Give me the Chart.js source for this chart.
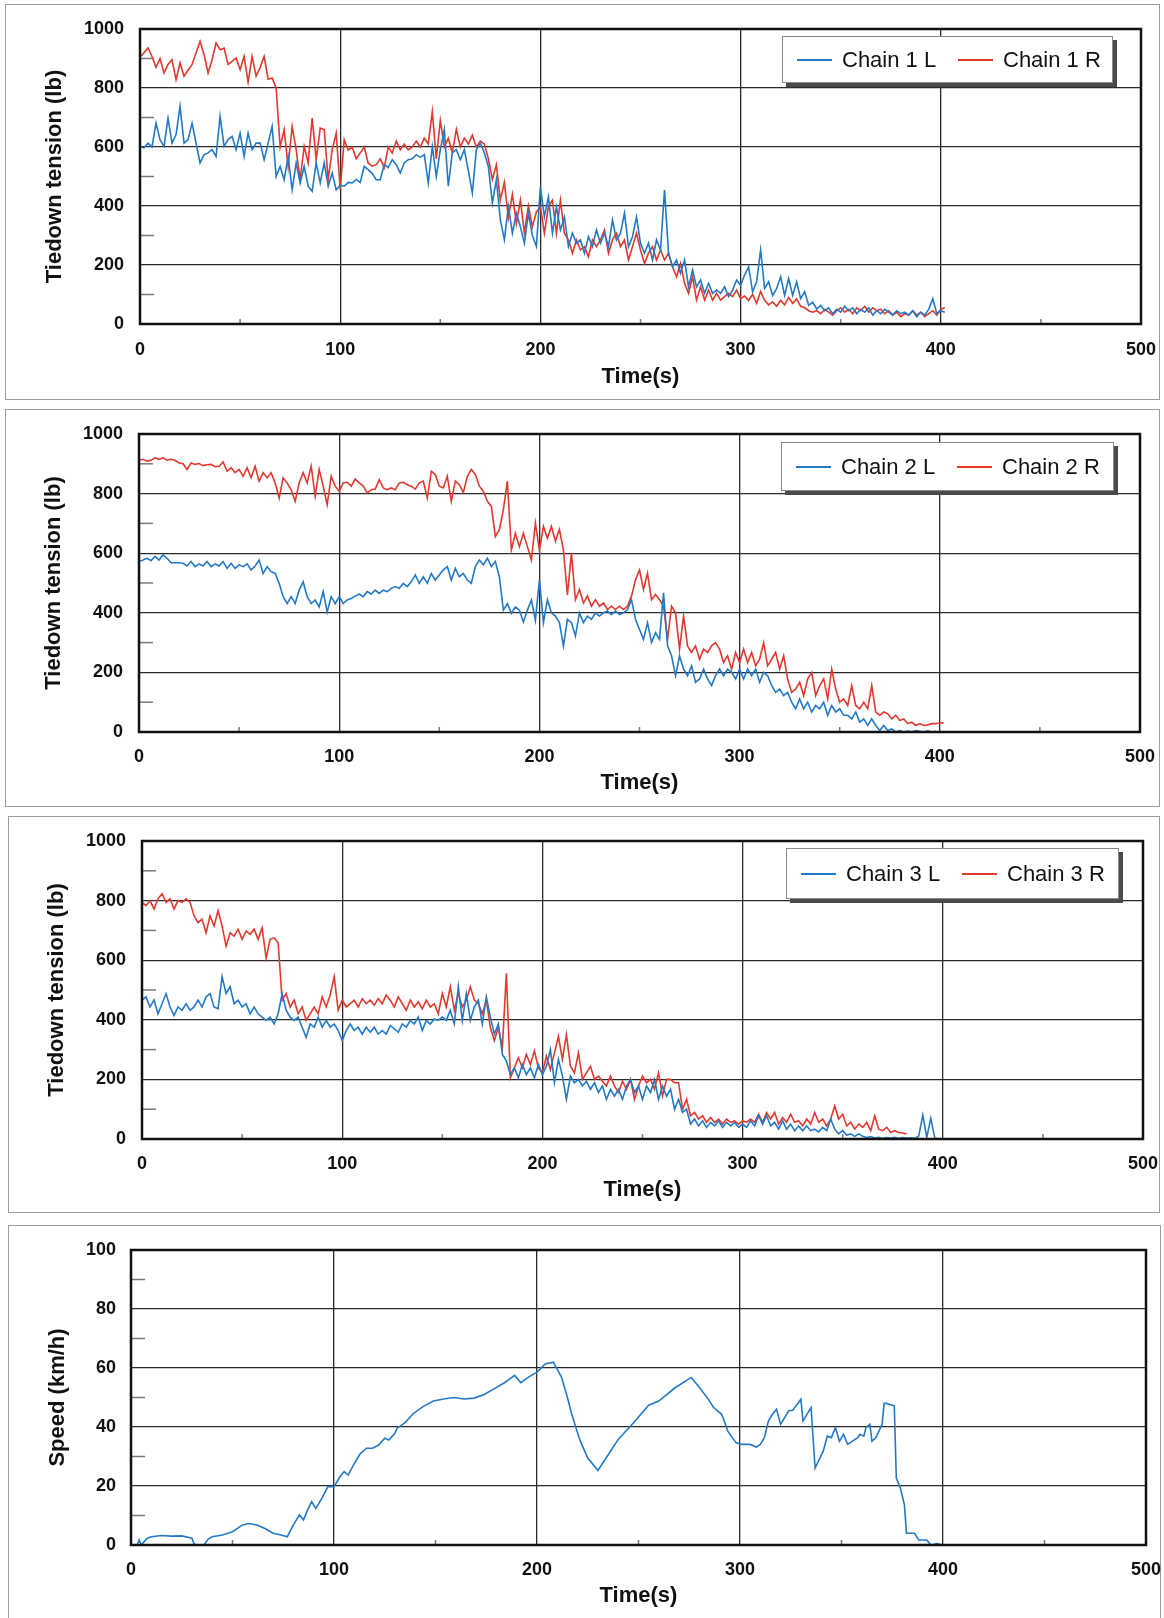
<!DOCTYPE html>
<html>
<head>
<meta charset="utf-8">
<title>Tiedown tension and speed</title>
<script src="https://cdn.jsdelivr.net/npm/chart.js@4.4.0/dist/chart.umd.min.js"></script>
<style>
  html, body { margin: 0; padding: 0; background: #fff; }
  body { width: 1164px; height: 1618px; position: relative; overflow: hidden; font-family: 'Liberation Sans', Arial, sans-serif; }
  .box { position: absolute; border: 1.5px solid #9c9c9c; box-sizing: border-box; }
  canvas.plot { position: absolute; left: 0; }
  .legend { position: absolute; background: #fff; border: 1px solid #8a8a8a; box-shadow: 4px 4px 0 #4a4a4a; box-sizing: border-box; }
  .legend .item { position: absolute; top: 0; height: 100%; display: flex; align-items: center; font-size: 22px; color: #111; white-space: nowrap; }
  .legend .swatch { width: 35px; height: 2px; margin-right: 10px; }
</style>
</head>
<body>
<script>
// sample times (s) shared by the tension records
const TIME = [
  0,2,4,6,8,10,12,14,16,18,
  20,22,24,26,28,30,32,34,36,38,
  40,42,44,46,48,50,52,54,56,58,
  60,62,64,66,68,70,72,74,76,78,
  80,82,84,86,88,90,92,94,96,98,
  100,102,104,106,108,110,112,114,116,118,
  120,122,124,126,128,130,132,134,136,138,
  140,142,144,146,148,150,152,154,156,158,
  160,162,164,166,168,170,172,174,176,178,
  180,182,184,186,188,190,192,194,196,198,
  200,202,204,206,208,210,212,214,216,218,
  220,222,224,226,228,230,232,234,236,238,
  240,242,244,246,248,250,252,254,256,258,
  260,262,264,266,268,270,272,274,276,278,
  280,282,284,286,288,290,292,294,296,298,
  300,302,304,306,308,310,312,314,316,318,
  320,322,324,326,328,330,332,334,336,338,
  340,342,344,346,348,350,352,354,356,358,
  360,362,364,366,368,370,372,374,376,378,
  380,382,384,386,388,390,392,394,396,398,
  400,402
];

// Chain 1 (lb)
const CHAIN1_L = [
  602,597,613,600,681,625,602,698,613,642,
  738,613,625,681,613,546,574,580,591,568,
  704,602,625,636,591,647,568,647,591,613,
  613,557,613,670,500,534,489,568,455,546,
  478,534,467,450,546,478,546,467,512,455,
  470,467,480,478,490,480,534,523,510,489,
  489,540,530,557,540,512,546,557,560,574,
  565,574,478,602,500,591,659,467,580,591,
  557,591,520,444,591,613,580,534,410,489,
  353,286,399,308,376,330,274,376,300,263,
  465,363,431,308,397,319,363,262,308,274,
  285,240,296,262,319,274,308,262,353,285,
  308,376,262,296,363,274,240,274,217,285,
  251,454,240,194,217,172,217,126,183,126,
  149,104,138,104,115,104,126,93,115,149,
  131,166,194,109,143,251,120,143,97,120,
  160,97,154,97,143,86,109,63,74,51,
  63,45,55,35,50,40,60,45,55,35,
  50,40,55,30,45,35,50,40,30,45,
  35,40,30,45,25,40,30,50,86,35,
  45,40
];
const CHAIN1_R = [
  905,920,936,907,870,900,851,880,896,828,
  885,840,860,880,919,958,913,851,896,953,
  930,935,880,890,902,862,907,820,907,840,
  870,907,830,834,800,600,659,534,670,591,
  489,602,546,698,557,664,659,489,591,647,
  455,625,590,600,560,580,600,545,535,540,
  560,530,600,580,620,590,610,590,600,620,
  600,630,610,720,560,690,600,630,580,660,
  600,630,610,640,600,620,610,560,490,540,
  420,480,360,440,340,420,310,400,330,380,
  397,308,397,420,308,420,308,285,240,285,
  251,262,228,285,262,285,319,240,285,308,
  262,285,217,262,308,251,205,240,262,217,
  251,217,240,194,160,205,138,104,160,81,
  126,81,115,81,104,81,93,104,93,115,
  86,95,80,100,70,110,80,65,75,60,
  80,65,90,70,85,60,55,45,40,45,
  35,50,40,30,45,55,40,50,35,55,
  45,60,40,55,45,50,35,45,30,40,
  25,35,30,45,30,40,25,35,45,30,
  50,55
];

// Chain 2 (lb)
const CHAIN2_L = [
  572,577,583,575,589,577,594,583,568,568,
  568,566,557,572,555,564,557,572,555,564,
  557,572,549,566,549,561,555,564,544,557,
  577,532,555,538,532,499,454,431,454,431,
  476,504,454,431,443,420,471,403,454,431,
  454,431,443,448,456,463,454,471,463,476,
  465,476,471,482,488,482,499,488,504,527,
  499,521,499,532,510,527,544,555,510,549,
  521,532,510,499,555,577,561,583,555,572,
  521,409,431,398,420,409,369,409,443,375,
  511,367,444,400,389,367,289,378,367,322,
  400,367,389,378,400,389,400,406,394,406,
  394,400,411,444,378,344,311,367,300,333,
  311,467,289,256,189,256,211,189,222,167,
  178,211,178,156,189,211,189,211,200,178,
  211,178,211,189,211,167,200,189,156,133,
  144,122,133,100,78,111,78,100,67,89,
  78,100,56,89,67,78,56,56,44,67,
  33,44,22,44,22,5,22,5,10,0,
  5,0,3,0,5,2,0,4,0,2
];
const CHAIN2_R = [
  912,915,909,912,920,915,920,912,915,912,
  903,900,881,903,898,901,894,897,898,890,
  892,906,875,887,870,881,858,887,853,892,
  842,870,853,870,836,785,853,836,813,774,
  836,870,836,892,791,881,825,763,858,825,
  808,836,838,825,849,836,825,802,813,815,
  847,819,813,819,813,836,838,830,825,815,
  836,842,785,875,864,825,819,858,774,842,
  830,804,858,881,864,825,808,774,757,656,
  679,746,842,611,667,622,667,622,577,701,
  610,690,650,690,640,680,610,460,600,444,
  478,433,456,422,444,422,433,411,422,411,
  422,411,422,456,511,544,478,533,444,461,
  444,422,311,422,400,278,389,289,267,289,
  244,278,267,289,300,278,233,256,211,267,
  233,278,233,267,222,244,300,222,244,267,
  211,256,178,133,144,167,122,178,200,122,
  156,178,111,211,144,100,111,89,156,89,
  78,100,78,156,67,56,67,61,44,56,
  39,44,28,33,22,28,22,24,28,28,
  31,30
];

// Chain 3 (lb)
const CHAIN3_L = [
  466,477,443,466,420,454,488,443,415,443,
  432,454,432,443,466,443,477,488,443,437,
  545,488,511,454,466,443,454,420,443,420,
  409,398,409,386,420,488,432,409,398,409,
  375,341,386,375,409,375,398,375,386,364,
  330,364,386,364,375,352,375,358,375,352,
  364,352,381,370,358,386,375,398,386,409,
  364,398,386,403,398,409,398,432,386,511,
  398,488,398,443,466,386,477,409,352,386,
  284,262,216,239,205,250,216,239,205,250,
  216,244,300,189,267,211,133,211,189,200,
  178,194,167,189,156,178,133,167,144,167,
  133,178,200,156,178,133,178,156,200,133,
  178,144,167,100,133,89,100,50,67,44,
  61,39,56,44,61,39,56,44,56,39,
  50,39,61,44,78,50,78,44,56,33,
  61,33,50,28,44,28,44,28,33,24,
  39,28,67,33,17,28,13,17,9,17,
  9,5,8,3,6,2,5,3,6,2,
  5,3,4,2,10,80,5,70,3,0
];
const CHAIN3_R = [
  794,783,800,772,806,823,794,806,772,800,
  794,806,794,749,726,738,692,749,715,766,
  715,647,692,681,704,670,698,687,704,670,
  709,607,670,675,658,466,488,443,466,420,
  443,398,420,443,420,477,443,483,545,432,
  466,443,454,466,443,471,454,466,449,471,
  454,483,466,443,477,454,432,466,443,460,
  437,466,443,454,420,488,443,511,432,488,
  443,466,511,466,454,420,466,375,330,375,
  307,556,205,239,273,239,284,250,296,239,
  222,278,233,289,344,267,350,244,222,289,
  200,222,244,200,211,194,178,211,178,156,
  194,167,200,133,178,211,189,200,167,222,
  144,200,200,189,189,100,133,78,89,67,
  78,56,72,56,67,50,67,56,61,50,
  61,56,67,56,83,56,89,67,89,50,
  72,56,83,56,61,44,67,50,89,56,
  67,44,67,111,67,83,44,56,33,50,
  39,56,28,78,33,28,39,22,28,22,
  20,17
];

// vehicle speed (km/h)
const SPEED_TIME = [
  0,3,4,5,8,10,15,20,25,30,31,32,36,38,40,45,50,55,58,62,
  66,70,74,77,80,83,85,87,89,91,94,97,100,103,105,107,110,113,116,119,
  122,125,127,130,131,135,139,144,149,154,159,164,169,174,179,184,189,192,196,200,
  204,208,212,215,217,221,225,230,235,240,248,255,260,268,276,280,284,287,291,294,
  298,301,305,308,310,312,314,316,318,320,322,324,326,330,331,335,337,341,343,345,
  347,349,351,353,358,359,361,362,364,365,367,370,371,372,376,377,379,381,382,386,
  388,392,394,397,400
];
const SPEED = [
  0,0,1.7,0,2.3,2.8,3.2,3,3.1,2.3,0.5,0,0,2,2.8,3.4,4.5,6.8,7.3,6.8,
  5.6,4,3.4,2.8,6.8,10.2,8.5,11.9,14.7,12.4,15.8,19.8,19.8,23.2,24.9,23.7,27.7,31,32.8,32.8,
  33.9,36.2,35.6,37.9,39.5,41.5,44.5,47,48.8,49.5,50,49.5,49.8,51,53,55,57.5,55,57,58.6,
  61.4,62,57,50,44.6,35.8,29.5,25.3,30.5,35.8,41.8,47.4,48.8,53.3,56.8,53.4,49.8,46.6,44.3,38.6,
  34.7,34.1,34.1,33.2,34.1,36.4,42,44.3,46,40.9,43.2,45.5,45.7,49.4,42,46.6,26.1,31.8,36.9,36.4,
  39.8,35.2,37.5,34.1,36.4,37.5,36.9,39.8,40.9,35.2,36.4,40.9,48,48,47.2,22.7,19.3,13.6,4,4,
  1.7,1.7,0,0.5,0
];

const BLUE = '#2479c6';
const RED = '#e2392f';
const FONT = "'Liberation Sans', Arial, sans-serif";

function pts(xs, ys) { return ys.map((v, i) => ({ x: xs[i], y: v })); }

// short minor ticks between the major ones + heavy frame round the plot
const framePlugin = {
  id: 'frame',
  beforeDatasetsDraw(chart) {
    const { ctx, chartArea: a, scales } = chart;
    ctx.save();
    ctx.strokeStyle = '#7a7a7a';
    ctx.lineWidth = 1.5;
    const yt = scales.y.ticks;
    for (let i = 0; i < yt.length - 1; i++) {
      const py = scales.y.getPixelForValue((yt[i].value + yt[i + 1].value) / 2);
      ctx.beginPath(); ctx.moveTo(a.left, py); ctx.lineTo(a.left + 14, py); ctx.stroke();
    }
    const xt = scales.x.ticks;
    for (let i = 0; i < xt.length - 1; i++) {
      const px = scales.x.getPixelForValue((xt[i].value + xt[i + 1].value) / 2);
      ctx.beginPath(); ctx.moveTo(px, a.bottom); ctx.lineTo(px, a.bottom - 5); ctx.stroke();
    }
    ctx.restore();
  },
  afterDraw(chart) {
    const { ctx, chartArea: a } = chart;
    ctx.save();
    ctx.strokeStyle = '#111';
    ctx.lineWidth = 2.5;
    ctx.strokeRect(a.left, a.top, a.right - a.left, a.bottom - a.top);
    ctx.restore();
  }
};

const panels = [
  { box: [5, 4, 1155, 396], plot: { l: 140, t: 29, r: 1141, b: 324 }, yMax: 1000, yStep: 200,
    yTitle: 'Tiedown tension (lb)', yTitlePad: 41.8, xTitlePad: 9.8, yTickPad: 16, xTickPad: 15,
    series: [['Chain 1 L', pts(TIME, CHAIN1_L), BLUE], ['Chain 1 R', pts(TIME, CHAIN1_R), RED]],
    legend: [782, 36, 331, 47] },
  { box: [5, 409, 1155, 398], plot: { l: 139, t: 434, r: 1140, b: 732 }, yMax: 1000, yStep: 200,
    yTitle: 'Tiedown tension (lb)', yTitlePad: 40.8, xTitlePad: 10.8, yTickPad: 16, xTickPad: 14,
    series: [['Chain 2 L', pts(TIME, CHAIN2_L), BLUE], ['Chain 2 R', pts(TIME, CHAIN2_R), RED]],
    legend: [781, 442, 333, 49] },
  { box: [8, 816, 1152, 397], plot: { l: 142, t: 841, r: 1143, b: 1139 }, yMax: 1000, yStep: 200,
    yTitle: 'Tiedown tension (lb)', yTitlePad: 43.8, xTitlePad: 9.8, yTickPad: 16, xTickPad: 14,
    series: [['Chain 3 L', pts(TIME, CHAIN3_L), BLUE], ['Chain 3 R', pts(TIME, CHAIN3_R), RED]],
    legend: [786, 848, 333, 51] },
  { box: [8, 1225, 1153, 400], canvasH: 393, plot: { l: 131, t: 1250, r: 1146, b: 1545 }, yMax: 100, yStep: 20,
    yTitle: 'Speed (km/h)', yTitlePad: 44.8, xTitlePad: 8.8, yTickPad: 15, xTickPad: 14,
    series: [['Speed', pts(SPEED_TIME, SPEED), BLUE]],
    legend: null }
];

panels.forEach(p => {
  const [bx, by, bw, bh] = p.box;
  const box = document.createElement('div');
  box.className = 'box';
  Object.assign(box.style, { left: bx + 'px', top: by + 'px', width: bw + 'px', height: bh + 'px' });
  document.body.appendChild(box);

  const ch = p.canvasH || bh;
  const cv = document.createElement('canvas');
  cv.className = 'plot';
  cv.width = 1164; cv.height = ch;
  cv.style.top = by + 'px';
  cv.style.width = '1164px'; cv.style.height = ch + 'px';
  document.body.appendChild(cv);

  const tickFont = { family: FONT, size: 18, weight: 'bold' };
  const titleFont = { family: FONT, size: 22, weight: 'bold' };
  const grid = { color: '#2a2a2a', lineWidth: 1.3, drawTicks: false };

  new Chart(cv.getContext('2d'), {
    type: 'line',
    data: {
      datasets: p.series.map(([label, data, color]) => ({
        label, data, borderColor: color, borderWidth: 1.6,
        pointRadius: 0, tension: 0, fill: false
      }))
    },
    options: {
      responsive: false,
      animation: false,
      layout: { padding: { left: 0, top: p.plot.t - by, right: 1164 - p.plot.r, bottom: 0 } },
      plugins: { legend: { display: false }, tooltip: { enabled: false } },
      scales: {
        x: {
          type: 'linear', min: 0, max: 500,
          ticks: { stepSize: 100, color: '#111', font: tickFont, padding: p.xTickPad, maxRotation: 0, callback: v => String(v) },
          grid, border: { display: false },
          title: { display: true, text: 'Time(s)', color: '#111', font: titleFont, padding: { top: 0, bottom: p.xTitlePad } },
          afterFit: s => { s.height = by + ch - p.plot.b; s.paddingLeft = 0; s.paddingRight = 0; }
        },
        y: {
          min: 0, max: p.yMax,
          ticks: { stepSize: p.yStep, color: '#111', font: tickFont, padding: p.yTickPad, callback: v => String(v) },
          grid, border: { display: false },
          title: { display: true, text: p.yTitle, color: '#111', font: titleFont, padding: { top: p.yTitlePad, bottom: 0 } },
          afterFit: s => { s.width = p.plot.l; s.paddingTop = 0; s.paddingBottom = 0; }
        }
      }
    },
    plugins: [framePlugin]
  });

  if (p.legend) {
    const [lx, ly, lw, lh] = p.legend;
    const lg = document.createElement('div');
    lg.className = 'legend';
    Object.assign(lg.style, { left: lx + 'px', top: ly + 'px', width: lw + 'px', height: lh + 'px' });
    p.series.forEach(([label, , color], i) => {
      const it = document.createElement('div');
      it.className = 'item';
      it.style.left = (i === 0 ? 14 : 175) + 'px';
      it.innerHTML = '<span class="swatch" style="background:' + color + '"></span><span>' + label + '</span>';
      lg.appendChild(it);
    });
    document.body.appendChild(lg);
  }
});
</script>
</body>
</html>
